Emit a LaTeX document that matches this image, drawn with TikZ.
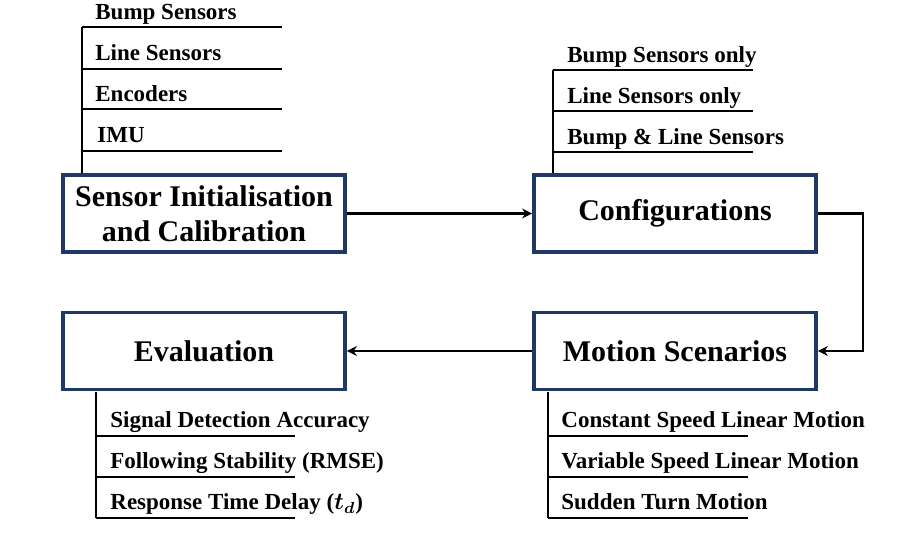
\documentclass[tikz,border=0pt]{standalone}
\usepackage{bm}
\usepackage{fontspec}
\setmainfont{Liberation Serif}
\usetikzlibrary{arrows.meta}
\definecolor{boxnavy}{HTML}{1F3864}

\begin{document}
\begin{tikzpicture}[x=0.5pt, y=-0.5pt,
  stage/.style={draw=boxnavy, line width=1.9pt, minimum width=141pt, minimum height=38.5pt,
    inner sep=0pt, align=center, font=\fontsize{15}{17.5}\selectfont\bfseries},
  item/.style={anchor=base west, inner sep=0pt, font=\fontsize{11.5}{13}\selectfont\bfseries},
  flow/.style={-{Stealth[length=5pt, width=5pt]}, line width=1.4pt},
  rail/.style={line width=1pt}]
\useasboundingbox (0,0) rectangle (911,539);
% the four stages
\node[stage] (sensor) at (204,213.5) {Sensor Initialisation\\and Calibration};
\node[stage] (config) at (675,213.5) {Configurations};
\node[stage] (motion) at (675,351) {Motion Scenarios};
\node[stage] (eval) at (204,351) {Evaluation};
% flow between the stages
\draw[flow] (sensor) -- (config);
\draw[flow] (config.east) -- ++(45,0) |- (motion.east);
\draw[flow] (motion) -- (eval);
% sensors used
\draw[rail] (82,27) -- (82,173);
\draw[rail] (82,27) -- (282,27);
\draw[rail] (82,69) -- (282,69);
\draw[rail] (82,109) -- (282,109);
\draw[rail] (82,151) -- (282,151);
\node[item] (bumpsens) at (95,20) {Bump Sensors};
\node[item] (linesens) at (95,61) {Line Sensors};
\node[item] (encoders) at (95,102) {Encoders};
\node[item] (imu) at (97,143) {IMU};
% configurations tested
\draw[rail] (553,70) -- (553,173);
\draw[rail] (553,70) -- (753,70);
\draw[rail] (553,111) -- (753,111);
\draw[rail] (553,152) -- (753,152);
\node[item] (bumponly) at (567,63) {Bump Sensors only};
\node[item] (lineonly) at (567,104) {Line Sensors only};
\node[item] (bumpline) at (567,145) {Bump \& Line Sensors};
% motion cases
\draw[rail] (548,392) -- (548,518);
\draw[rail] (548,436) -- (748,436);
\draw[rail] (548,477) -- (748,477);
\draw[rail] (548,518) -- (748,518);
\node[item] (constspeed) at (561,428) {Constant Speed Linear Motion};
\node[item] (varspeed) at (561,469) {Variable Speed Linear Motion};
\node[item] (suddenturn) at (561,510) {Sudden Turn Motion};
% evaluation metrics
\draw[rail] (96,392) -- (96,518);
\draw[rail] (96,436) -- (295,436);
\draw[rail] (96,477) -- (295,477);
\draw[rail] (96,518) -- (295,518);
\node[item] (accuracy) at (110,428) {Signal Detection Accuracy};
\node[item] (stability) at (110,469) {Following Stability (RMSE)};
\node[item] (delay) at (110,510) {Response Time Delay ($\bm{t_d}$)};
\end{tikzpicture}
\end{document}
